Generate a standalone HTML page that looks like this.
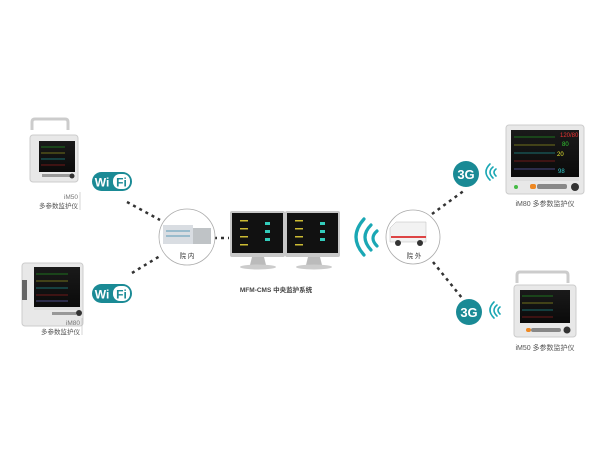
<!DOCTYPE html>
<html><head><meta charset="utf-8"><style>
html,body{margin:0;padding:0;background:#fff;width:600px;height:450px;overflow:hidden}
svg text{font-family:"Liberation Sans","Noto Sans CJK SC",sans-serif}
</style></head><body>
<svg width="600" height="450" viewBox="0 0 600 450">
<defs>
<linearGradient id="scr" x1="0" y1="0" x2="0" y2="1"><stop offset="0" stop-color="#1a1a1a"/><stop offset="1" stop-color="#0a0a0a"/></linearGradient>
</defs>
<g stroke="#333" stroke-width="2.5" stroke-dasharray="3,4" fill="none">
<line x1="127" y1="202" x2="160" y2="220"/>
<line x1="132" y1="273" x2="160" y2="256"/>
<line x1="214" y1="238" x2="229" y2="238"/>
<line x1="432" y1="214" x2="465" y2="190"/>
<line x1="433" y1="262" x2="462" y2="298"/>
</g>
<!-- left top monitor iM50 -->
<path d="M32 130 v-8 q0-3 3-3 h30 q3 0 3 3 v8" stroke="#ccc" stroke-width="3" fill="none"/>
<rect x="30" y="135" width="48" height="47" rx="3" fill="#e8e8e8" stroke="#ccc"/>
<rect x="39" y="141" width="36" height="31" fill="url(#scr)"/>
<g stroke-width="0.6"><line x1="41" y1="147" x2="65" y2="147" stroke="#2c2"/><line x1="41" y1="153" x2="65" y2="153" stroke="#cc2"/><line x1="41" y1="159" x2="65" y2="159" stroke="#2cc"/><line x1="41" y1="165" x2="65" y2="165" stroke="#c22"/></g>
<rect x="42" y="174" width="30" height="3" fill="#999"/><circle cx="72" cy="176" r="2.5" fill="#333"/>
<text x="78" y="199" font-size="6.5" fill="#777" text-anchor="end">iM50</text>
<text x="78" y="208" font-size="6.5" fill="#555" text-anchor="end">多参数监护仪</text>
<line x1="80" y1="192" x2="80" y2="210" stroke="#bbb" stroke-width="0.6"/>
<!-- left bottom monitor iM80 -->
<rect x="22" y="263" width="61" height="63" rx="3" fill="#e8e8e8" stroke="#ccc"/>
<rect x="34" y="267" width="46" height="40" fill="url(#scr)"/>
<g stroke-width="0.6"><line x1="36" y1="274" x2="68" y2="274" stroke="#2c2"/><line x1="36" y1="281" x2="68" y2="281" stroke="#cc2"/><line x1="36" y1="288" x2="68" y2="288" stroke="#2cc"/><line x1="36" y1="295" x2="68" y2="295" stroke="#c22"/><line x1="36" y1="301" x2="68" y2="301" stroke="#88f"/></g>
<rect x="34" y="307" width="46" height="3" fill="#ddd"/><rect x="52" y="312" width="24" height="3" fill="#999"/><circle cx="79" cy="313" r="3" fill="#333"/>
<rect x="22" y="280" width="5" height="20" fill="#666"/>
<text x="80" y="325" font-size="6.5" fill="#777" text-anchor="end">iM80</text>
<text x="80" y="334" font-size="6.5" fill="#555" text-anchor="end">多参数监护仪</text>
<line x1="82" y1="318" x2="82" y2="335" stroke="#bbb" stroke-width="0.6"/>
<!-- WiFi badges -->
<g>
<rect x="92" y="172" width="40" height="19" rx="9.5" fill="#1a8a95"/>
<rect x="113" y="174" width="17" height="15" rx="7" fill="#fff"/>
<text x="102" y="186.5" font-size="12" font-weight="bold" fill="#fff" text-anchor="middle">Wi</text>
<text x="121.5" y="186.5" font-size="12" font-weight="bold" fill="#1a8a95" text-anchor="middle">Fi</text>
</g>
<g transform="translate(0,112)">
<rect x="92" y="172" width="40" height="19" rx="9.5" fill="#1a8a95"/>
<rect x="113" y="174" width="17" height="15" rx="7" fill="#fff"/>
<text x="102" y="186.5" font-size="12" font-weight="bold" fill="#fff" text-anchor="middle">Wi</text>
<text x="121.5" y="186.5" font-size="12" font-weight="bold" fill="#1a8a95" text-anchor="middle">Fi</text>
</g>
<!-- hospital circle -->
<circle cx="187" cy="237" r="28" fill="#fff" stroke="#aaa" stroke-width="0.8"/>
<rect x="163" y="225" width="30" height="19" fill="#d9dde2"/><rect x="193" y="228" width="18" height="16" fill="#bfc3c6"/>
<rect x="166" y="230" width="24" height="2" fill="#9bc"/><rect x="166" y="235" width="24" height="2" fill="#9bc"/>
<text x="187" y="258" font-size="6.5" fill="#333" text-anchor="middle">院  内</text>
<!-- central monitors -->
<g>
<rect x="230" y="211" width="55" height="46" rx="2" fill="#c8c8c8"/>
<rect x="232" y="213" width="51" height="40" fill="#111"/>
<rect x="285" y="211" width="55" height="46" rx="2" fill="#c8c8c8"/>
<rect x="287" y="213" width="51" height="40" fill="#111"/>
<g fill="#cb3" ><rect x="240" y="220" width="8" height="1.5"/><rect x="240" y="228" width="8" height="1.5"/><rect x="240" y="236" width="8" height="1.5"/><rect x="240" y="244" width="8" height="1.5"/>
<rect x="295" y="220" width="8" height="1.5"/><rect x="295" y="228" width="8" height="1.5"/><rect x="295" y="236" width="8" height="1.5"/><rect x="295" y="244" width="8" height="1.5"/></g>
<g fill="#3cb"><rect x="265" y="222" width="5" height="3"/><rect x="265" y="230" width="5" height="3"/><rect x="265" y="238" width="5" height="3"/><rect x="320" y="222" width="5" height="3"/><rect x="320" y="230" width="5" height="3"/><rect x="320" y="238" width="5" height="3"/></g>
<path d="M252 257 h12 l2 8 h-16 z M308 257 h12 l2 8 h-16 z" fill="#bbb"/>
<ellipse cx="258" cy="267" rx="18" ry="2.5" fill="#ccc"/><ellipse cx="314" cy="267" rx="18" ry="2.5" fill="#ccc"/>
</g>
<text x="276" y="292" font-size="6.5" font-weight="bold" fill="#444" text-anchor="middle">MFM-CMS  中央监护系统</text>
<!-- wireless arcs -->
<g stroke="#1aa7b4" stroke-width="3.2" fill="none" stroke-linecap="round">
<path d="M364 219 Q 348 237 364 255"/>
<path d="M371 225 Q 359 237 371 250"/>
<path d="M377 231 Q 369 238 377 246"/>
</g>
<!-- ambulance circle -->
<circle cx="413" cy="237" r="27" fill="#fff" stroke="#aaa" stroke-width="0.8"/>
<path d="M390 228 l6 -6 h30 v20 h-36 z" fill="#f2f2f2" stroke="#bbb" stroke-width="0.5"/>
<rect x="391" y="236" width="35" height="2" fill="#d44"/>
<circle cx="398" cy="243" r="3" fill="#333"/><circle cx="420" cy="243" r="3" fill="#333"/>
<text x="414" y="258" font-size="6.5" fill="#333" text-anchor="middle">院  外</text>
<!-- 3G badges -->
<circle cx="466" cy="174" r="13" fill="#1a8a95"/>
<text x="466" y="179" font-size="13" font-weight="bold" fill="#fff" text-anchor="middle">3G</text>
<circle cx="469" cy="312" r="13" fill="#1a8a95"/>
<text x="469" y="317" font-size="13" font-weight="bold" fill="#fff" text-anchor="middle">3G</text>
<g stroke="#1aa7b4" stroke-width="1.6" fill="none" stroke-linecap="round">
<path d="M490 164 Q 482 172 490 180"/><path d="M493 167 Q 487 172 493 178"/><path d="M496 169 Q 492 172 496 176"/>
<path d="M494 302 Q 486 310 494 318"/><path d="M497 305 Q 491 310 497 316"/><path d="M500 307 Q 496 310 500 314"/>
</g>
<!-- right top monitor iM80 -->
<rect x="506" y="125" width="78" height="69" rx="3" fill="#e8e8e8" stroke="#ccc"/>
<rect x="511" y="130" width="68" height="47" fill="url(#scr)"/>
<g stroke-width="0.6"><line x1="514" y1="137" x2="555" y2="137" stroke="#2c2"/><line x1="514" y1="145" x2="555" y2="145" stroke="#cc2"/><line x1="514" y1="153" x2="555" y2="153" stroke="#2cc"/><line x1="514" y1="161" x2="555" y2="161" stroke="#c22"/><line x1="514" y1="169" x2="555" y2="169" stroke="#88f"/></g>
<text x="560" y="137" font-size="6" fill="#e33">120/80</text><text x="562" y="146" font-size="6" fill="#3c3">80</text><text x="557" y="156" font-size="6" fill="#ee3">20</text><text x="558" y="173" font-size="6" fill="#3cc">98</text>
<rect x="511" y="177" width="68" height="4" fill="#ddd"/><rect x="537" y="184" width="30" height="5" rx="2" fill="#888"/><rect x="530" y="184" width="6" height="5" rx="2" fill="#e82"/><circle cx="575" cy="187" r="4" fill="#333"/><circle cx="516" cy="187" r="2" fill="#4b4"/>
<text x="545" y="206" font-size="7" fill="#555" text-anchor="middle">iM80 多参数监护仪</text>
<!-- right bottom monitor iM50 -->
<path d="M517 283 v-8 q0-3 3-3 h45 q3 0 3 3 v8" stroke="#ccc" stroke-width="3" fill="none"/>
<rect x="514" y="285" width="62" height="52" rx="3" fill="#e8e8e8" stroke="#ccc"/>
<rect x="520" y="290" width="50" height="33" fill="url(#scr)"/>
<g stroke-width="0.6"><line x1="522" y1="296" x2="553" y2="296" stroke="#2c2"/><line x1="522" y1="303" x2="553" y2="303" stroke="#cc2"/><line x1="522" y1="310" x2="553" y2="310" stroke="#2cc"/><line x1="522" y1="317" x2="553" y2="317" stroke="#c22"/></g>
<rect x="531" y="328" width="30" height="4" rx="2" fill="#888"/><rect x="526" y="328" width="5" height="4" rx="2" fill="#e82"/><circle cx="567" cy="330" r="3.5" fill="#333"/>
<text x="545" y="350" font-size="7" fill="#555" text-anchor="middle">iM50 多参数监护仪</text>
</svg>
</body></html>
